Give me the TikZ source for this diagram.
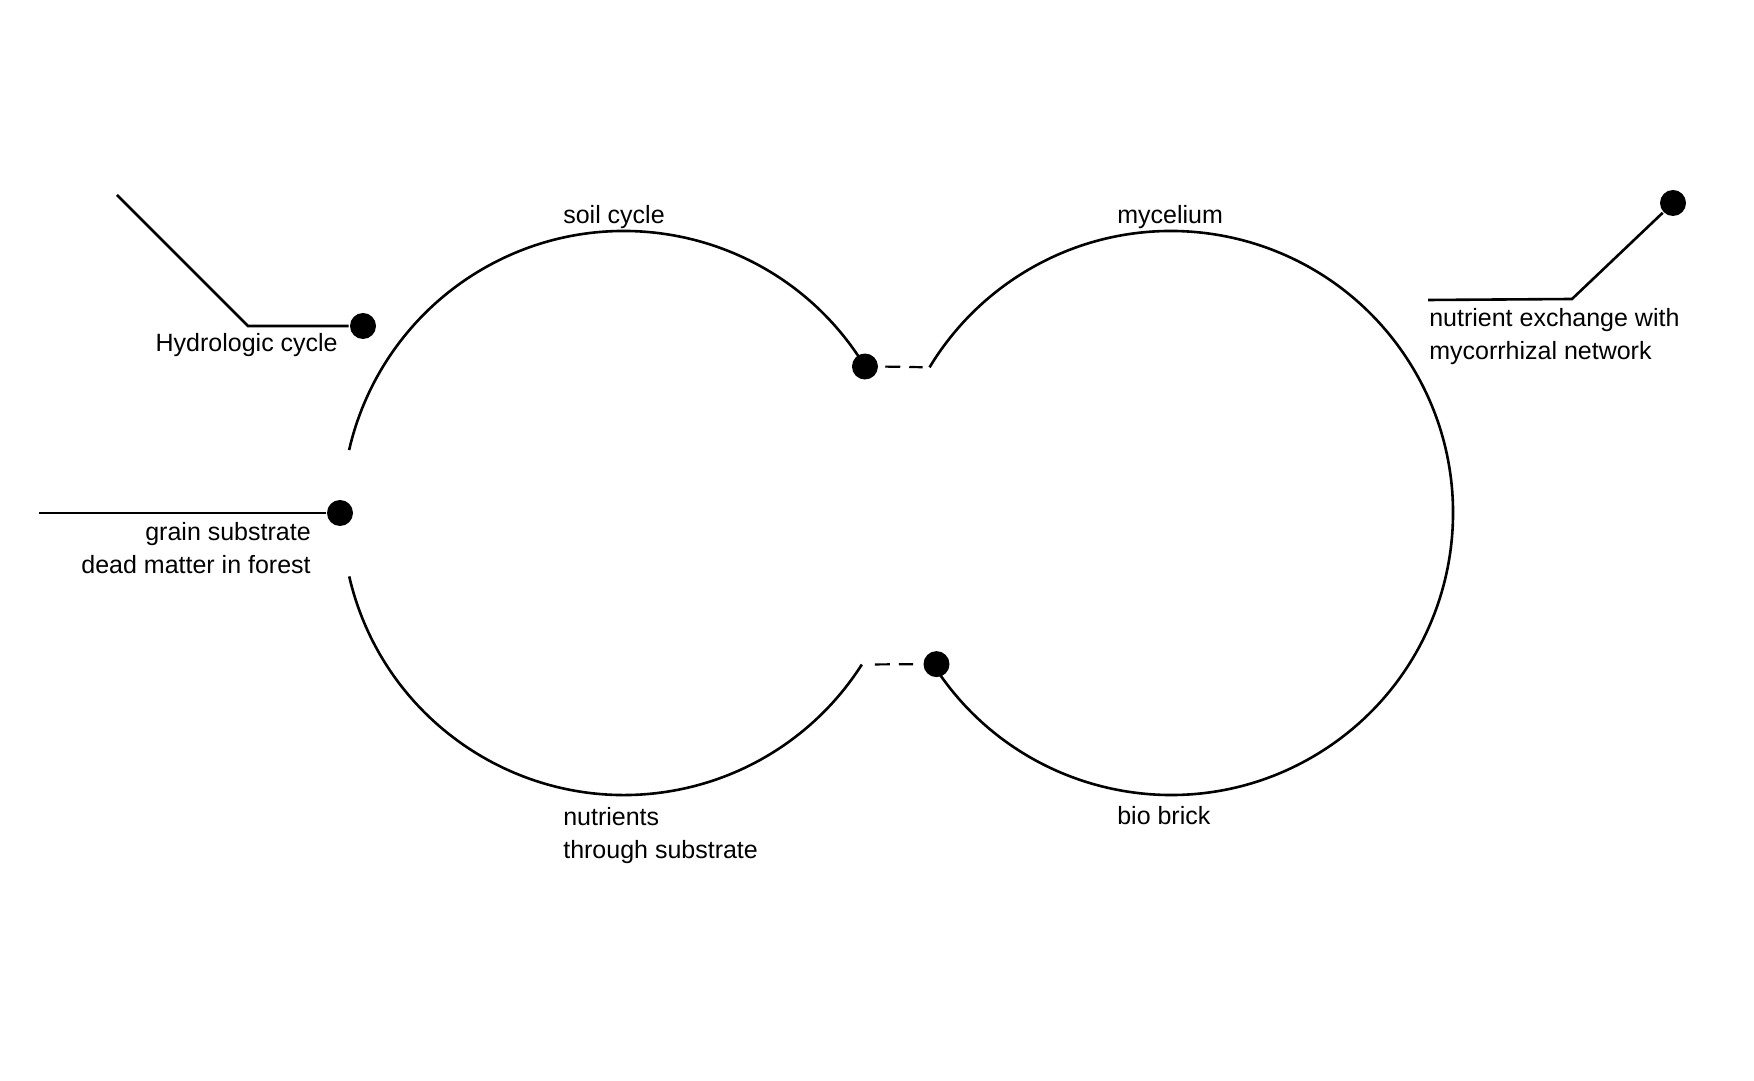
\documentclass[tikz,border=0pt]{standalone}
\usepackage{fontspec}
\setmainfont{Liberation Sans}
\usetikzlibrary{positioning}

\begin{document}
\begin{tikzpicture}[x=1pt,y=1pt,line width=2.6pt,
  dot/.style={circle,fill,inner sep=0pt,minimum size=26pt},
  lbl/.style={inner sep=0pt,font=\fontsize{25}{33}\selectfont},
  gap/.style={line width=2.2pt,dash pattern=on 15pt off 9pt}]
  \useasboundingbox (0,0) rectangle (1754,1080);
  \coordinate (soil) at (624,567);
  \coordinate (myc) at (1171,567);
  \draw ([shift={(31.3:282pt)}]soil) arc[start angle=31.3,end angle=167.1,radius=282pt];
  \draw ([shift={(193:282pt)}]soil) arc[start angle=193,end angle=327.5,radius=282pt] coordinate (soilend);
  \draw ([shift={(-147.2:282pt)}]myc) arc[start angle=-147.2,end angle=148.9,radius=282pt] coordinate (mycend);
  \node[dot] (topdot) at ([shift={(31.3:282pt)}]soil) {};
  \node[dot] (botdot) at ([shift={(212.8:279pt)}]myc) {};
  \node[dot] (graindot) at ([shift={(180:284pt)}]soil) {};
  \node[dot] (hydrodot) at (363,754) {};
  \node[dot] (mycodot) at (1673,877) {};
  \coordinate (hydrostart) at (117,885);
  \coordinate (hydrobend) at (248,754);
  \coordinate (grainstart) at (39,567);
  \coordinate (mycostart) at (1428,780);
  \coordinate (mycobend) at (1572,781);
  \draw[gap,shorten <=6pt,shorten >=7pt] (topdot.east)--(mycend);
  \draw[gap,shorten <=13pt,shorten >=9pt] (soilend)--(botdot.west);
  \draw (hydrostart)--(hydrobend)--(hydrodot);
  \draw (grainstart)--(graindot);
  \draw (mycostart)--(mycobend)--(mycodot);
  \node[lbl,anchor=base west] (soillbl) at (562,856) {soil cycle};
  \node[lbl,anchor=base west] (myclbl) at (1116,856) {mycelium};
  \node[lbl,anchor=base west,align=left] (nutrlbl) at (562,222) {nutrients\\through substrate};
  \node[lbl,anchor=base west] (bricklbl) at (1116,255) {bio brick};
  \node[lbl,anchor=base east] (hydrolbl) at (339,728) {Hydrologic cycle};
  \node[lbl,anchor=base east,align=right] (grainlbl) at (312,506) {grain substrate\\dead matter in forest};
  \node[lbl,anchor=base west,align=left] (mycolbl) at (1428,720) {nutrient exchange with\\mycorrhizal network};
\end{tikzpicture}
\end{document}
